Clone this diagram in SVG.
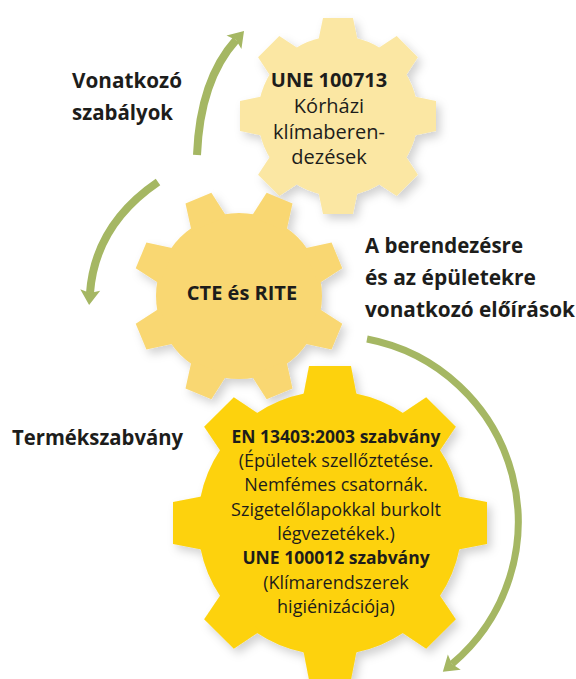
<svg xmlns="http://www.w3.org/2000/svg" width="576" height="679" viewBox="0 0 576 679">
<style>
  text { font-family: "Open Sans", "Liberation Sans", sans-serif; fill: #1d1d1b; }
  .b { font-weight: bold; }
  .lbl { font-weight: bold; font-size: 21px; }
  .c { text-anchor: middle; }
  .arrow { fill: none; stroke: #a5b763; stroke-linecap: butt; }
</style>
<defs>
  <filter id="sh" x="-20%" y="-20%" width="150%" height="150%">
    <feDropShadow dx="4" dy="5" stdDeviation="5" flood-color="#000" flood-opacity="0.18"/>
  </filter>
  <polygon id="toothTop" points="-20,-74 -15,-98 15,-98 20,-74"/>
  <polygon id="toothMid" points="-19,-78 -14,-106 14,-106 19,-78"/>
  <polygon id="toothBot" points="-27,-126 -21,-157 21,-157 27,-126"/>
  <marker id="ah" viewBox="-1 -11 18 22" refX="3" refY="0" markerWidth="18" markerHeight="22" markerUnits="userSpaceOnUse" orient="auto">
    <path d="M0,-10 L15,0 L0,10 L3,0 Z" fill="#a5b763"/>
  </marker>
</defs>

<g id="connectors">
  <path class="arrow" stroke-width="8" d="M197,155 Q200,80 236,40" marker-end="url(#ah)"/>
  <path class="arrow" stroke-width="8" d="M158,182 Q95,225 90,293" marker-end="url(#ah)"/>
  <path class="arrow" stroke-width="7" d="M367,339 A186,186 0 0 1 452,664" marker-end="url(#ah)"/>
</g>

<g id="gear-top">
  <g transform="translate(338,116)" fill="#fbe7a3" filter="url(#sh)">
    <circle r="80"/>
    <use href="#toothTop"/>
    <use href="#toothTop" transform="rotate(45)"/>
    <use href="#toothTop" transform="rotate(90)"/>
    <use href="#toothTop" transform="rotate(135)"/>
    <use href="#toothTop" transform="rotate(180)"/>
    <use href="#toothTop" transform="rotate(225)"/>
    <use href="#toothTop" transform="rotate(270)"/>
    <use href="#toothTop" transform="rotate(315)"/>
  </g>
  <text class="b c" x="329" y="87" font-size="20">UNE 100713</text>
  <text class="c" x="329" y="113" font-size="20">Kórházi</text>
  <text class="c" x="329" y="139" font-size="20">klímaberen-</text>
  <text class="c" x="329" y="164" font-size="20">dezések</text>
</g>

<g id="gear-mid">
  <g transform="translate(239,296)" fill="#f9d772" filter="url(#sh)">
    <circle r="83"/>
    <use href="#toothMid" transform="rotate(22.5)"/>
    <use href="#toothMid" transform="rotate(67.5)"/>
    <use href="#toothMid" transform="rotate(112.5)"/>
    <use href="#toothMid" transform="rotate(157.5)"/>
    <use href="#toothMid" transform="rotate(202.5)"/>
    <use href="#toothMid" transform="rotate(247.5)"/>
    <use href="#toothMid" transform="rotate(292.5)"/>
    <use href="#toothMid" transform="rotate(337.5)"/>
  </g>
  <text class="b c" x="242" y="300" font-size="20">CTE és RITE</text>
</g>

<g id="gear-bot">
  <g transform="translate(330,523)" fill="#fdd20b" filter="url(#sh)">
    <circle r="132"/>
    <use href="#toothBot"/>
    <use href="#toothBot" transform="rotate(45)"/>
    <use href="#toothBot" transform="rotate(90)"/>
    <use href="#toothBot" transform="rotate(135)"/>
    <use href="#toothBot" transform="rotate(180)"/>
    <use href="#toothBot" transform="rotate(225)"/>
    <use href="#toothBot" transform="rotate(270)"/>
    <use href="#toothBot" transform="rotate(315)"/>
  </g>
  <text class="b c" x="336" y="443" font-size="17.5">EN 13403:2003 szabvány</text>
  <text class="c" x="336" y="467" font-size="18">(Épületek szellőztetése.</text>
  <text class="c" x="336" y="491" font-size="18">Nemfémes csatornák.</text>
  <text class="c" x="336" y="516" font-size="18">Szigetelőlapokkal burkolt</text>
  <text class="c" x="336" y="540" font-size="18">légvezetékek.)</text>
  <text class="b c" x="336" y="564" font-size="17.5">UNE 100012 szabvány</text>
  <text class="c" x="336" y="589" font-size="18">(Klímarendszerek</text>
  <text class="c" x="336" y="613" font-size="18">higiénizációja)</text>
</g>

<g id="labels">
  <text class="lbl" x="72" y="88" textLength="110" lengthAdjust="spacingAndGlyphs">Vonatkozó</text>
  <text class="lbl" x="72" y="120" textLength="101" lengthAdjust="spacingAndGlyphs">szabályok</text>
  <text class="lbl" x="365" y="253" textLength="158" lengthAdjust="spacingAndGlyphs">A berendezésre</text>
  <text class="lbl" x="365" y="285" textLength="171" lengthAdjust="spacingAndGlyphs">és az épületekre</text>
  <text class="lbl" x="365" y="317" textLength="210" lengthAdjust="spacingAndGlyphs">vonatkozó előírások</text>
  <text class="lbl" x="12" y="445" textLength="171" lengthAdjust="spacingAndGlyphs">Termékszabvány</text>
</g>
</svg>
